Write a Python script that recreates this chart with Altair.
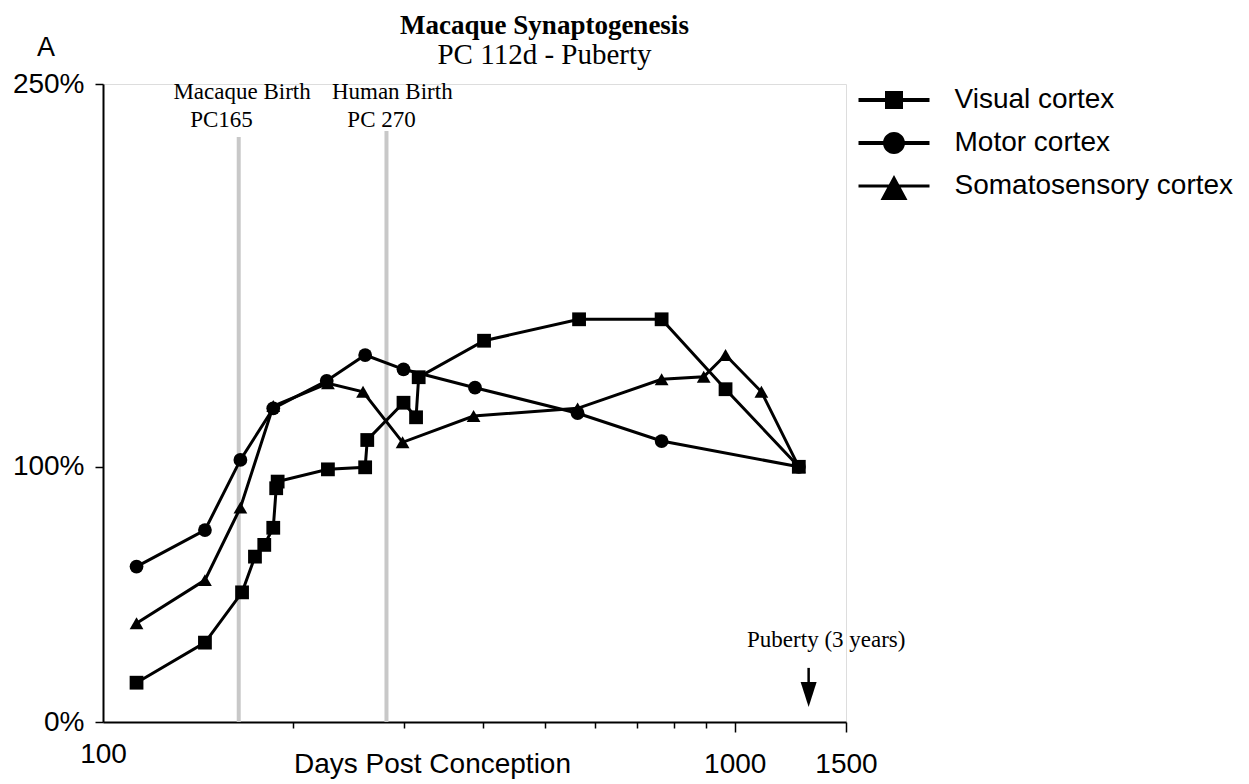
import altair as alt
import pandas as pd

# ---- data ----
series_names = ["Visual cortex", "Motor cortex", "Somatosensory cortex"]

visual_days = [113, 145, 166, 174, 180, 186, 188, 189, 227, 260, 262, 299, 313, 316, 401, 567, 766, 967, 1263]
visual_pct = [15.4, 31.1, 50.8, 64.8, 69.4, 76.1, 91.6, 94.2, 99.0, 99.8, 110.5, 125.1, 119.4, 135.1, 149.4, 157.8, 157.8, 130.4, 100]

motor_days = [113, 145, 165, 186, 226, 260, 299, 388, 564, 766, 1263]
motor_pct = [60.9, 75.2, 102.7, 122.9, 133.7, 143.8, 138.2, 131.0, 121.0, 110.1, 100]

soma_days = [113, 145, 165, 186, 227, 258, 298, 386, 564, 766, 893, 967, 1102, 1263]
soma_pct = [38.7, 55.6, 84.0, 123.8, 132.7, 129.4, 109.6, 119.9, 122.9, 134.3, 135.3, 143.8, 129.4, 100]

x_tick_values = [100, 200, 300, 400, 500, 600, 700, 800, 900, 1000, 1500]
x_tick_labels = [100, 1000, 1500]
y_tick_values = [0, 100, 250]

birth_days = [164, 281]
birth_tops = [229.2, 231.6]

annot_text = ["Macaque Birth", "PC165", "Human Birth", "PC 270"]
annot_days = [166, 154, 287, 276]
annot_pct = [244.1, 233.1, 244.1, 233.1]

puberty_text = ["Puberty (3 years)"]
puberty_text_day = [1396]
puberty_text_pct = [29.4]
puberty_day = [1309]
puberty_shaft = [21.2, 14.9]
puberty_head_pct = [10.8]

# ---- tables ----
rows = []
for name, days, pcts in [
    (series_names[0], visual_days, visual_pct),
    (series_names[1], motor_days, motor_pct),
    (series_names[2], soma_days, soma_pct),
]:
    for i, (d, p) in enumerate(zip(days, pcts)):
        rows.append({"series": name, "day": d, "pct": p, "order": i})
df = pd.DataFrame(rows)

births = pd.DataFrame({"day": birth_days, "top": birth_tops, "bottom": [0, 0]})
annots = pd.DataFrame({"text": annot_text, "day": annot_days, "pct": annot_pct})
pub_text = pd.DataFrame({"text": puberty_text, "day": puberty_text_day, "pct": puberty_text_pct})
pub_shaft = pd.DataFrame({"day": puberty_day, "y1": [puberty_shaft[0]], "y2": [puberty_shaft[1]]})
pub_head = pd.DataFrame({"day": puberty_day, "pct": puberty_head_pct})

label_test = " || ".join(f"datum.value == {v}" for v in x_tick_labels)

x_scale = alt.Scale(type="log", domain=[100, 1500], nice=False)
y_scale = alt.Scale(domain=[0, 250], nice=False, zero=True)

x_axis = alt.Axis(
    values=x_tick_values,
    format="d",
    labelExpr=f"({label_test}) ? datum.label : ''",
    labelFont="Liberation Sans",
    labelFontSize=28,
    labelColor="black",
    labelPadding=18,
    labelOverlap=False,
    labelFlush=False,
    tickColor="black",
    tickWidth=1.5,
    tickSize={"condition": [{"test": "datum.value == 100", "value": 0},
                            {"test": "datum.value >= 1000", "value": 10}],
              "value": 6},
    domainColor="black",
    domainWidth=2,
    grid=False,
    title="Days Post Conception",
    titleFont="Liberation Sans",
    titleFontSize=28,
    titleFontWeight="normal",
    titleColor="black",
    titleX=329,
    titleY=50,
    titleAlign="center",
    titleBaseline="alphabetic",
)

y_axis = alt.Axis(
    values=y_tick_values,
    labelExpr="datum.value + '%'",
    labelFont="Liberation Sans",
    labelFontSize=28,
    labelColor="black",
    labelPadding=11,
    tickColor="black",
    tickWidth=1.5,
    tickSize=8,
    domainColor="black",
    domainWidth=2,
    grid=False,
    title=None,
)

X = alt.X("day:Q", scale=x_scale, axis=x_axis)
Y = alt.Y("pct:Q", scale=y_scale, axis=y_axis)

rules = alt.Chart(births).mark_rule(color="#c8c8c8", strokeWidth=4).encode(
    x=alt.X("day:Q", scale=x_scale, axis=x_axis),
    y=alt.Y("top:Q", scale=y_scale, axis=y_axis),
    y2="bottom:Q",
)

lines = alt.Chart(df).mark_line(color="black", strokeWidth=3).encode(
    x=X, y=Y, detail="series:N", order="order:Q"
)

points = alt.Chart(df).mark_point(filled=True, color="black", opacity=1, size=190).encode(
    x=X, y=Y,
    shape=alt.Shape("series:N",
                    scale=alt.Scale(domain=series_names, range=["square", "circle", "triangle-up"]),
                    legend=None),
)

legend_paths = [
    "M-2.84,-0.16H2.84V0.16H-2.84Z M-0.72,-0.72H0.72V0.72H-0.72Z",
    "M-2.84,-0.16H2.84V0.16H-2.84Z M-0.88,0 A0.88,0.88 0 1,1 0.88,0 A0.88,0.88 0 1,1 -0.88,0 Z",
    "M-2.84,-0.12H2.84V0.12H-2.84Z M0,-0.88L1.08,1.12H-1.08Z",
]

legend_layer = alt.Chart(df).mark_point(filled=True, color="black", opacity=0).encode(
    x=X, y=Y,
    shape=alt.Shape(
        "series:N",
        scale=alt.Scale(domain=series_names, range=legend_paths),
        legend=alt.Legend(
            title=None,
            orient="none",
            legendX=777,
            legendY=2,
            padding=0,
            symbolSize=625,
            symbolFillColor="black",
            symbolStrokeWidth=0,
            symbolOpacity=1,
            labelFont="Liberation Sans",
            labelFontSize=28,
            labelColor="black",
            labelOffset=46.5,
            labelLimit=0,
            rowPadding=15,
        ),
    ),
)

annot_layer = alt.Chart(annots).mark_text(
    font="Liberation Serif", fontSize=23, color="black", align="center", baseline="alphabetic"
).encode(x=alt.X("day:Q", scale=x_scale), y=alt.Y("pct:Q", scale=y_scale), text="text:N")

pub_text_layer = alt.Chart(pub_text).mark_text(
    font="Liberation Serif", fontSize=23, color="black", align="center", baseline="alphabetic"
).encode(x=alt.X("day:Q", scale=x_scale), y=alt.Y("pct:Q", scale=y_scale), text="text:N")

pub_shaft_layer = alt.Chart(pub_shaft).mark_rule(color="black", strokeWidth=2.5).encode(
    x=alt.X("day:Q", scale=x_scale), y=alt.Y("y1:Q", scale=y_scale), y2="y2:Q"
)

pub_head_layer = alt.Chart(pub_head).mark_point(
    filled=True, color="black", opacity=1, size=625, shape="M-0.64,-1L0.64,-1L0,1Z"
).encode(x=alt.X("day:Q", scale=x_scale), y=alt.Y("pct:Q", scale=y_scale))

letter = alt.Chart(pd.DataFrame({"t": ["A"]})).mark_text(
    font="Liberation Sans", fontSize=27, color="black", align="center", baseline="alphabetic"
).encode(x=alt.value(-57), y=alt.value(-28), text="t:N")

chart = alt.layer(
    rules, lines, points, legend_layer, annot_layer, pub_text_layer, pub_shaft_layer, pub_head_layer, letter
).resolve_scale(shape="independent").properties(
    width=743,
    height=638,
    padding={"left": 95, "top": 76, "right": 395, "bottom": 60},
    autosize=alt.AutoSizeParams(type="none"),
    title=alt.TitleParams(
        text="Macaque Synaptogenesis",
        subtitle="PC 112d - Puberty",
        font="Liberation Serif",
        fontSize=27,
        fontWeight="bold",
        color="black",
        subtitleFont="Liberation Serif",
        subtitleFontSize=29,
        subtitleColor="black",
        subtitlePadding=1,
        anchor="middle",
        dx=70,
        dy=53,
        offset=16,
    ),
).configure_view(strokeWidth=0).configure(background="white")

chart.save("out.html", embed_options={"renderer": "svg", "actions": False})
